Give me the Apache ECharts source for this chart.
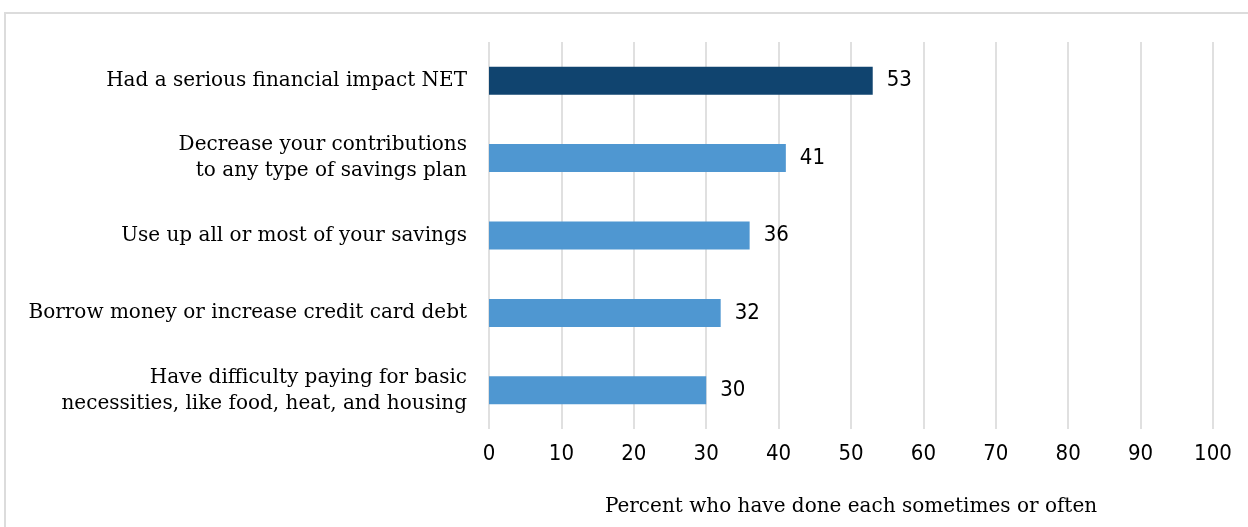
<!DOCTYPE html>
<html><head><meta charset="utf-8">
<script src="https://cdn.jsdelivr.net/npm/echarts@6/dist/echarts.min.js"></script>
<style>
html,body{margin:0;padding:0;background:#fff;overflow:hidden;}
#c{width:1248px;height:527px;position:absolute;left:0;top:0;}
#frame{position:absolute;left:4px;top:12px;width:1300px;height:600px;border-left:2px solid #dcdcdc;border-top:2px solid #dcdcdc;pointer-events:none;}
</style></head>
<body>
<div id="c"></div>
<div id="frame"></div>
<script>
const categories = [
  "Had a serious financial impact NET",
  "Decrease your contributions\nto any type of savings plan",
  "Use up all or most of your savings",
  "Borrow money or increase credit card debt",
  "Have difficulty paying for basic\nnecessities, like food, heat, and housing"
];
const values = [53, 41, 36, 32, 30];
const barColors = ["#10446f", "#4f97d1", "#4f97d1", "#4f97d1", "#4f97d1"];
const axisName = "Percent who have done each sometimes or often";

const chart = echarts.init(document.getElementById('c'), null, {renderer:'canvas'});
chart.setOption({
  animation:false,
  grid:{left:489, right:35, top:42, bottom:98, containLabel:false},
  xAxis:{
    type:'value', min:0, max:100, interval:10,
    axisLine:{show:false}, axisTick:{show:false},
    splitLine:{show:true, lineStyle:{color:'#e0e0e0', width:2}},
    axisLabel:{color:'#000', fontFamily:'DejaVu Sans Condensed', fontSize:22, margin:14},
    name:axisName, nameLocation:'middle', nameGap:68,
    nameTextStyle:{color:'#000', fontFamily:'DejaVu Serif', fontSize:20}
  },
  yAxis:{
    type:'category', data:categories, inverse:true,
    axisLine:{show:false}, axisTick:{show:false},
    axisLabel:{color:'#000', fontFamily:'DejaVu Serif', fontSize:20, margin:22, lineHeight:26, align:'right'}
  },
  series:[{
    type:'bar', barWidth:28,
    data: values.map((v,i)=>({value:v, itemStyle:{color:barColors[i]}})),
    label:{show:true, position:'right', distance:14, color:'#000', fontFamily:'DejaVu Sans Condensed', fontSize:22}
  }]
});
</script>
</body></html>
